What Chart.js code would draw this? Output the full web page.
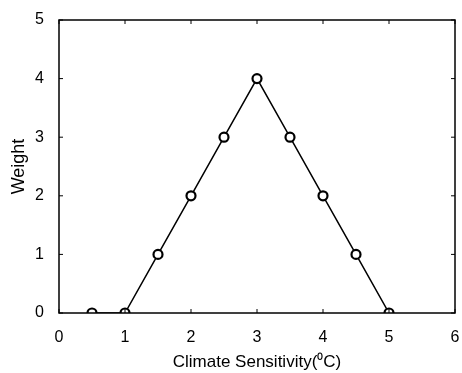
<!DOCTYPE html>
<html>
<head>
<meta charset="utf-8">
<script src="https://cdn.jsdelivr.net/npm/chart.js@4"></script>
<style>
  body { margin: 0; background: #fff; }
  canvas { display: block; }
</style>
</head>
<body>
<canvas id="my-chart" width="462" height="373"></canvas>
<script>
"use strict";

// Data
let sensitivity = [0.5, 1, 1.5, 2, 2.5, 3, 3.5, 4, 4.5, 5];
let weights = [0, 0, 1, 2, 3, 4, 3, 2, 1, 0];
let xTicks = [0, 1, 2, 3, 4, 5, 6];
let yTicks = [0, 1, 2, 3, 4, 5];

let points = [];
for (let i = 0; i < sensitivity.length; i++) {
  points.push({ x: sensitivity[i], y: weights[i] });
}

// Box around the plot and small inward ticks, like the old plot
let framePlugin = {
  id: "frame",
  afterDraw(chart) {
    let ctx = chart.ctx;
    let a = chart.chartArea;
    let xs = chart.scales.x;
    let ys = chart.scales.y;
    ctx.save();
    ctx.strokeStyle = "#000";
    ctx.lineWidth = 1.5;
    ctx.strokeRect(a.left, a.top, a.right - a.left, a.bottom - a.top);
    ctx.lineWidth = 1;
    ctx.beginPath();
    for (let i = 0; i < xTicks.length; i++) {
      let px = xs.getPixelForValue(xTicks[i]);
      ctx.moveTo(px, a.bottom); ctx.lineTo(px, a.bottom - 4);
      ctx.moveTo(px, a.top); ctx.lineTo(px, a.top + 4);
    }
    for (let i = 0; i < yTicks.length; i++) {
      let py = ys.getPixelForValue(yTicks[i]);
      ctx.moveTo(a.left, py); ctx.lineTo(a.left + 4, py);
      ctx.moveTo(a.right, py); ctx.lineTo(a.right - 4, py);
    }
    ctx.stroke();
    ctx.restore();
  }
};

let font = "'Liberation Sans', Arial, sans-serif";

let ctx = document.getElementById("my-chart").getContext("2d");
let myChart = new Chart(ctx, {
  type: "scatter",
  data: {
    datasets: [
      {
        data: points,
        showLine: true,
        borderColor: "#000",
        borderWidth: 1.5,
        pointBackgroundColor: "#fff",
        pointBorderColor: "#000",
        pointBorderWidth: 2.2,
        pointRadius: 4.5,
      },
    ],
  },
  options: {
    responsive: false,
    animation: false,
    layout: { padding: { top: 20, right: 7, left: 8, bottom: 0 } },
    plugins: {
      legend: { display: false },
      tooltip: { enabled: false },
    },
    scales: {
      x: {
        type: "linear",
        min: 0,
        max: 6,
        afterBuildTicks: (scale) => { scale.ticks = xTicks.map(v => ({ value: v })); },
        afterFit: (scale) => {
          scale.height = 60;
          scale.paddingRight = 0;
          scale.paddingLeft = 0;
        },
        grid: { display: false },
        border: { display: false },
        ticks: { color: "#000", font: { family: font, size: 16 }, padding: 7 },
        title: {
          display: true,
          text: "Climate Sensitivity(\u2070C)",
          color: "#000",
          font: { family: font, size: 17 },
          padding: { top: 5, bottom: 0 },
        },
      },
      y: {
        type: "linear",
        min: 0,
        max: 5,
        afterBuildTicks: (scale) => { scale.ticks = yTicks.map(v => ({ value: v })); },
        afterFit: (scale) => {
          scale.width = 51;
          scale.paddingTop = 0;
          scale.paddingBottom = 0;
        },
        grid: { display: false },
        border: { display: false },
        ticks: { color: "#000", font: { family: font, size: 16 }, padding: 7 },
        title: {
          display: true,
          text: "Weight",
          color: "#000",
          font: { family: font, size: 18 },
          padding: { top: 0, bottom: 2 },
        },
      },
    },
  },
  plugins: [framePlugin],
});
</script>
</body>
</html>
